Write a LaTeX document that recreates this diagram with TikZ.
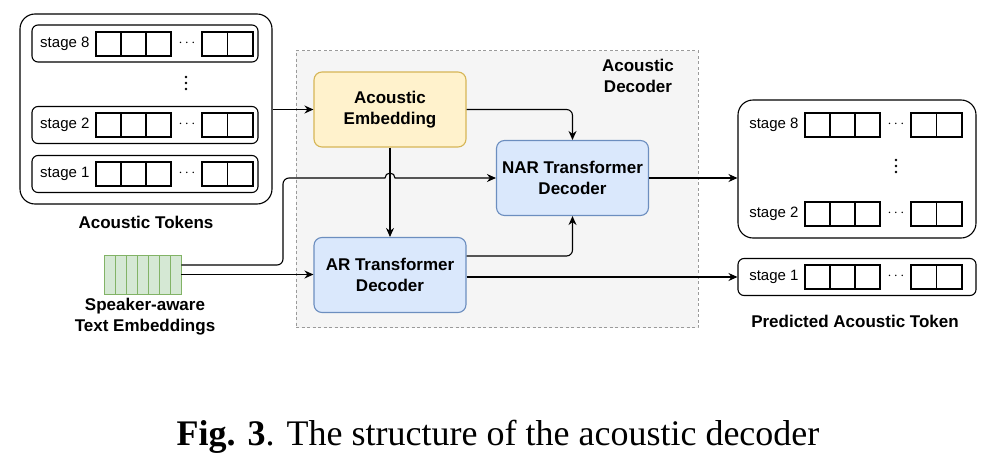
\documentclass[tikz,border=0pt]{standalone}
\usepackage{fontspec}
\setmainfont{Liberation Sans}
\newfontfamily\capfont{Liberation Serif}
\usetikzlibrary{arrows.meta}
\definecolor{embfill}{HTML}{FFF2CC}
\definecolor{embdraw}{HTML}{D6B656}
\definecolor{decfill}{HTML}{DAE8FC}
\definecolor{decdraw}{HTML}{6C8EBF}
\definecolor{txtfill}{HTML}{D5E8D4}
\definecolor{txtdraw}{HTML}{82B366}
\definecolor{areafill}{HTML}{F5F5F5}
\definecolor{areadraw}{HTML}{9A9A9A}
% one row of tokens: name, x of first cell, y, stage
\newcommand{\tokrow}[4]{%
\node[lbl,anchor=east] (#1) at (#2-4,#3) {stage #4};
\foreach \i in {0,1,2} \draw (#2+25*\i,#3-12) rectangle ++(25,24);
\node[font=\fontsize{14}{14}\selectfont] (#1d) at (#2+91,#3-1) {$\cdots$};
\foreach \i in {0,1} \draw (#2+106+25.5*\i,#3-12) rectangle ++(25.5,24);
}
% vertical dots
\newcommand{\vdotsat}[2]{%
\foreach \j in {-6,0,6} \fill (#1,#2+\j) circle[radius=1.4pt];
}
\begin{document}
\begin{tikzpicture}[x=1pt,y=-1pt,line width=1.1pt,
lbl/.style={font=\fontsize{15}{15}\selectfont,inner sep=2pt},
title/.style={font=\fontsize{17}{21}\selectfont\bfseries,align=center},
block/.style={draw,rounded corners=8pt,minimum width=152pt,minimum height=75pt,title},
arr/.style={-{Stealth[length=9pt,width=8pt]},rounded corners=6pt}]
\useasboundingbox (0,0) rectangle (990,463);
%
\node[draw=areadraw,fill=areafill,line width=0.8pt,dash pattern=on 3pt off 2.5pt,
minimum width=402pt,minimum height=277pt] (area) at (497,189) {};
\node[title,anchor=north] (arealbl) at (638,55) {Acoustic\\Decoder};
\node[block,fill=embfill,draw=embdraw] (emb) at (390,109.5) {Acoustic\\Embedding};
\node[block,fill=decfill,draw=decdraw] (nar) at (572.5,178) {NAR Transformer\\Decoder};
\node[block,fill=decfill,draw=decdraw] (ar) at (390,275) {AR Transformer\\Decoder};
%
\node[draw,rounded corners=15pt,minimum width=252pt,minimum height=190pt] (tokens) at (146,109) {};
\node[draw,rounded corners=6pt,minimum width=226pt,minimum height=37pt] (row8) at (145,43.5) {};
\node[draw,rounded corners=6pt,minimum width=226pt,minimum height=37pt] (row2) at (145,125) {};
\node[draw,rounded corners=6pt,minimum width=226pt,minimum height=37pt] (row1) at (145,174) {};
\tokrow{s8}{96}{44}{8}
\tokrow{s2}{96}{125}{2}
\tokrow{s1}{96}{174}{1}
\vdotsat{186}{83}
\node[title] (tokenslbl) at (146,222) {Acoustic Tokens};
%
\node[draw=txtdraw,fill=txtfill,line width=0.8pt,minimum width=77pt,minimum height=39pt] (txt) at (142.5,274.5) {};
\foreach \i in {1,...,6} \draw[txtdraw,line width=0.8pt] (104+11*\i,255) -- ++(0,39);
\node[title] (txtlbl) at (145,317) {Speaker-aware\\Text Embeddings};
%
\node[draw,rounded corners=15pt,minimum width=238pt,minimum height=138pt] (pred) at (857,169) {};
\node[draw,rounded corners=6pt,minimum width=238pt,minimum height=37pt] (p1) at (857,277) {};
\tokrow{p8}{805}{125}{8}
\tokrow{p2}{805}{214}{2}
\tokrow{q1}{805}{277}{1}
\vdotsat{896}{166}
\node[title] (predlbl) at (855,321) {Predicted Acoustic Token};
%
\node[font=\capfont\fontsize{36}{36}\selectfont] (cap) at (498,437) {\textbf{Fig. 3}. The structure of the acoustic decoder};
%
\coordinate (bend) at (283,178);
\coordinate (mid) at (330,178);
\draw[arr] (tokens.east |- emb.west) -- (emb.west);
\draw[arr] (emb.east) -| (nar.north);
\draw[arr] (emb.south) -- (ar.north);
\draw[arr] ([yshift=9.5pt]txt.east) -| (bend) -- (mid) [sharp corners]
-- ([xshift=-5pt]emb.south |- nar.west) arc[start angle=180,end angle=0,radius=5pt] -- (nar.west);
\draw[arr] (txt.east) -- (txt.east -| ar.west);
\draw[arr] ([yshift=19pt]ar.east) -| (nar.south);
\draw[arr] ([yshift=-2pt]ar.east) -- ([yshift=-2pt]ar.east -| p1.west);
\draw[arr] (nar.east) -- (nar.east -| pred.west);
%
\end{tikzpicture}
\end{document}
